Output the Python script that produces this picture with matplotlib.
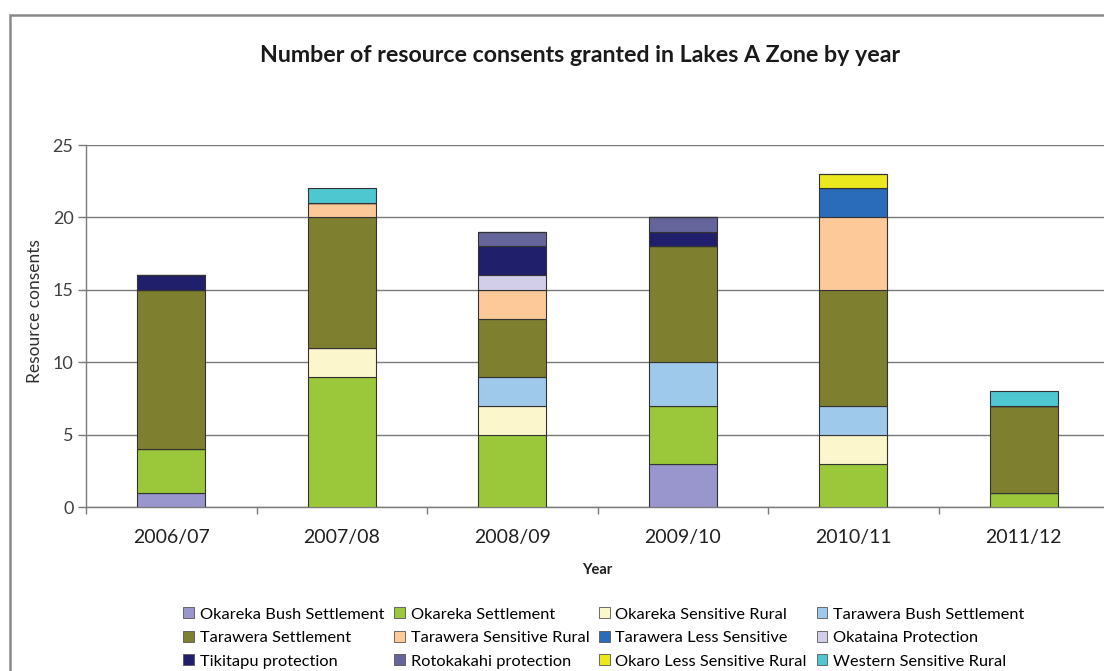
import matplotlib
matplotlib.use("Agg")
import matplotlib.pyplot as plt
from matplotlib.patches import Rectangle, Patch
import numpy as np

plt.rcParams['font.family'] = ['Lato', 'DejaVu Sans']

years = ["2006/07", "2007/08", "2008/09", "2009/10", "2010/11", "2011/12"]

series_names = [
    "Okareka Bush Settlement",
    "Okareka Settlement",
    "Okareka Sensitive Rural",
    "Tarawera Bush Settlement",
    "Tarawera Settlement",
    "Tarawera Sensitive Rural",
    "Tarawera Less Sensitive",
    "Okataina Protection",
    "Tikitapu protection",
    "Rotokakahi protection",
    "Okaro Less Sensitive Rural",
    "Western Sensitive Rural",
]

okareka_bush_settlement = [1, 0, 0, 3, 0, 0]
okareka_settlement = [3, 9, 5, 4, 3, 1]
okareka_sensitive_rural = [0, 2, 2, 0, 2, 0]
tarawera_bush_settlement = [0, 0, 2, 3, 2, 0]
tarawera_settlement = [11, 9, 4, 8, 8, 6]
tarawera_sensitive_rural = [0, 1, 2, 0, 5, 0]
tarawera_less_sensitive = [0, 0, 0, 0, 2, 0]
okataina_protection = [0, 0, 1, 0, 0, 0]
tikitapu_protection = [1, 0, 2, 1, 0, 0]
rotokakahi_protection = [0, 0, 1, 1, 0, 0]
okaro_less_sensitive_rural = [0, 0, 0, 0, 1, 0]
western_sensitive_rural = [0, 1, 0, 0, 0, 1]

series_values = [
    okareka_bush_settlement,
    okareka_settlement,
    okareka_sensitive_rural,
    tarawera_bush_settlement,
    tarawera_settlement,
    tarawera_sensitive_rural,
    tarawera_less_sensitive,
    okataina_protection,
    tikitapu_protection,
    rotokakahi_protection,
    okaro_less_sensitive_rural,
    western_sensitive_rural,
]

series_colors = [
    "#9896cc",
    "#9bc83a",
    "#fbf6cc",
    "#9fc9ea",
    "#7f7f30",
    "#fdc999",
    "#2a6cba",
    "#d2cde9",
    "#1f1f6b",
    "#65659c",
    "#ece81e",
    "#4fc7d1",
]

W, H = 1104, 671
fig = plt.figure(figsize=(W / 100, H / 100), dpi=100)

# outer chart frame (extends past the right/bottom edge)
fig.patches.append(Rectangle((10 / W, -0.1), 1.2, 1 - 15 / H + 0.1,
                             transform=fig.transFigure, fill=False,
                             edgecolor="#8a8a8a", linewidth=1.8, zorder=0))

ax_left, ax_right, ax_top, ax_bottom = 86, 1109, 145, 507
ax = fig.add_axes([ax_left / W, 1 - ax_bottom / H,
                   (ax_right - ax_left) / W, (ax_bottom - ax_top) / H])

x = np.arange(len(years))
bottom = np.zeros(len(years))
handles = []
for name, vals, col in zip(series_names, series_values, series_colors):
    vals = np.array(vals, dtype=float)
    ax.bar(x, vals, width=0.4, bottom=bottom, color=col,
           edgecolor="#333333", linewidth=0.8, zorder=3)
    bottom += vals
    handles.append(Patch(facecolor=col, edgecolor="#555555", linewidth=0.6, label=name))

ax.set_xlim(-0.5, len(years) - 0.5)
ax.set_ylim(0, 25)
ax.set_yticks(np.arange(0, 26, 5))
ax.set_xticks(x)
ax.set_xticklabels(years)
ax.set_xticks(np.arange(-0.5, len(years), 1.0), minor=True)

ax.grid(axis="y", color="#7a7a7a", linewidth=1.0, zorder=0)
for s in ("top", "right"):
    ax.spines[s].set_visible(False)
for s in ("left", "bottom"):
    ax.spines[s].set_color("#7a7a7a")
    ax.spines[s].set_linewidth(1.0)

ax.tick_params(axis="y", length=6, width=1.0, color="#7a7a7a",
               labelsize=13, labelcolor="#404040", pad=3)
ax.tick_params(axis="x", which="major", length=0, labelsize=14,
               labelcolor="#202020", pad=16)
ax.tick_params(axis="x", which="minor", length=5, width=1.0, color="#7a7a7a")

fig.text(580 / W, 1 - 55 / H, "Number of resource consents granted in Lakes A Zone by year",
         ha="center", va="center", fontsize=16.7, fontweight="bold", color="#1a1a1a")
fig.text(35 / W, 1 - 311 / H, "Resource consents", rotation=90,
         ha="center", va="center", fontsize=12.5, color="#303030")
fig.text(597 / W, 1 - 570 / H, "Year", ha="center", va="center",
         fontsize=10.5, fontweight="bold", color="#202020")

# legend laid out row by row, four entries per row
ncol = 4
nrow = int(np.ceil(len(handles) / ncol))
order = [r * ncol + c for c in range(ncol) for r in range(nrow)]
leg = fig.legend([handles[i] for i in order], [series_names[i] for i in order],
                 ncol=ncol, loc="center", bbox_to_anchor=(604 / W, 1 - 638 / H),
                 frameon=False, fontsize=11.8, handlelength=0.65, handleheight=0.65,
                 handletextpad=0.35, columnspacing=0.6, labelspacing=0.56,
                 borderpad=0)

fig.savefig("out.png", dpi=100, facecolor="white")
